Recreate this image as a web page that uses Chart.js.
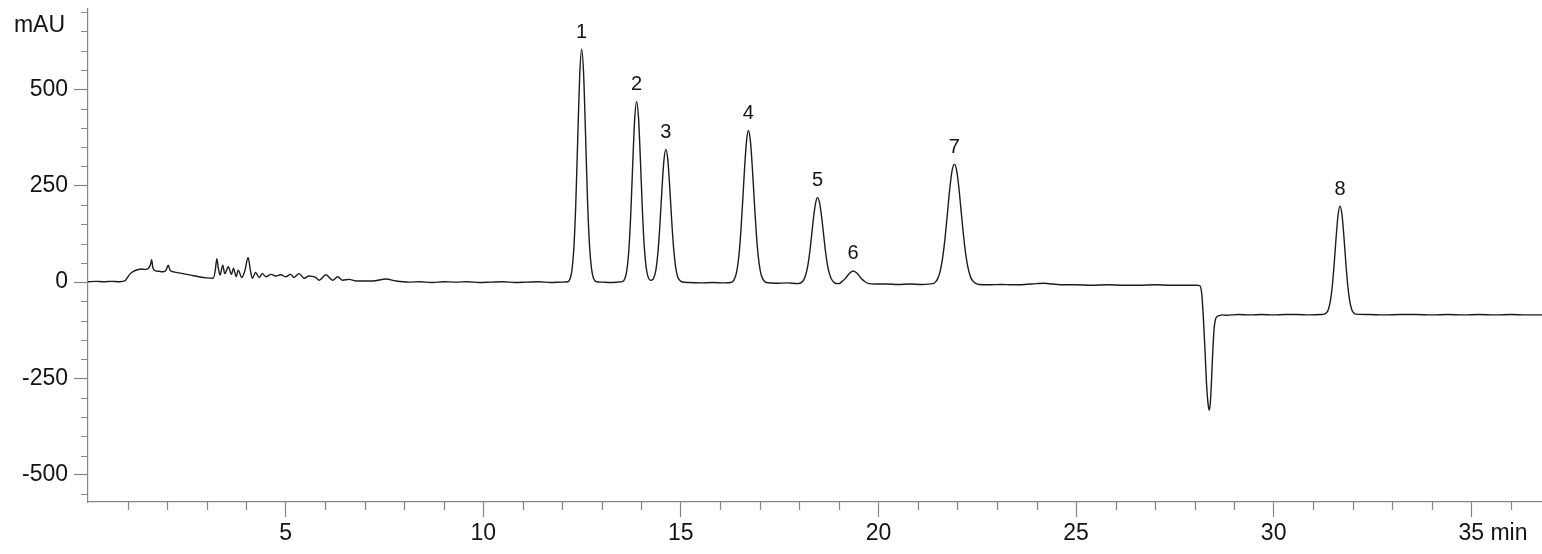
<!DOCTYPE html>
<html>
<head>
<meta charset="utf-8">
<script src="https://cdn.jsdelivr.net/npm/chart.js@4.4.1/dist/chart.umd.min.js"></script>
<style>
  html, body { margin: 0; padding: 0; background: #ffffff; }
  #wrap { width: 1542px; height: 554px; }
</style>
</head>
<body>
<div id="wrap"><canvas id="c" width="1542" height="554"></canvas></div>
<script>
// ---- Data (time in min, signal in mAU) ----
const traceEarly = [[0.00,1],[0.2,2],[0.4,1],[0.6,2],[0.8,1],[0.93,3],[1.0,12],[1.07,22],[1.15,28],[1.25,32],[1.35,34],[1.45,33],[1.53,36],[1.58,45],[1.61,58],[1.64,38],[1.7,30],[1.8,28],[1.9,27],[1.98,32],[2.03,44],[2.08,30],[2.2,26],[2.4,22],[2.6,18],[2.8,14],[3.0,11],[3.17,10],[3.22,30],[3.26,61],[3.30,35],[3.34,18],[3.41,44],[3.46,22],[3.55,40],[3.63,20],[3.68,36],[3.75,14],[3.80,31],[3.89,12],[3.97,30],[4.05,64],[4.11,30],[4.16,10],[4.24,25],[4.33,12],[4.41,22],[4.50,14],[4.63,20],[4.75,16],[4.88,19],[5.0,14],[5.13,20],[5.21,12],[5.34,22],[5.47,10],[5.59,16],[5.76,12],[5.85,5],[6.02,19],[6.19,5],[6.32,14],[6.44,5],[6.61,7],[6.78,3],[7.0,3],[7.2,3],[7.54,8],[7.79,3],[8.12,0]];
const traceBaseline1 = [[8.4,1],[8.7,-1],[9.0,1],[9.3,0],[9.6,1],[9.9,-1],[10.2,0],[10.5,1],[10.8,-1],[11.1,0],[11.4,1],[11.7,-1],[12.0,0]];
const tracePeak1 = [[12.14,1],[12.19,7],[12.24,27],[12.29,82],[12.34,196],[12.39,366],[12.44,533],[12.49,604],[12.54,540],[12.59,380],[12.64,210],[12.69,95],[12.74,35],[12.79,10],[12.86,1],[13.0,0],[13.2,-1],[13.4,0]];
const tracePeak2 = [[13.53,2],[13.58,8],[13.63,28],[13.68,76],[13.73,168],[13.78,298],[13.83,418],[13.88,468],[13.93,425],[13.98,310],[14.03,180],[14.08,85],[14.13,33],[14.18,11],[14.23,5]];
const tracePeak3 = [[14.28,6],[14.32,12],[14.37,32],[14.42,76],[14.47,147],[14.52,236],[14.57,313],[14.62,344],[14.67,318],[14.72,245],[14.77,158],[14.82,85],[14.87,38],[14.92,14],[14.97,5],[15.02,1],[15.2,-1],[15.5,-2],[15.8,-1],[16.1,-2]];
const tracePeak4 = [[16.26,-1],[16.31,1],[16.36,9],[16.41,25],[16.46,60],[16.51,118],[16.56,200],[16.61,290],[16.66,363],[16.71,393],[16.76,366],[16.81,296],[16.86,208],[16.91,126],[16.96,66],[17.01,29],[17.06,11],[17.11,3],[17.16,-1],[17.4,-3],[17.7,-2],[17.95,-4]];
const tracePeak5 = [[18.01,-3],[18.06,0],[18.11,6],[18.16,19],[18.21,41],[18.26,76],[18.31,122],[18.36,169],[18.41,205],[18.46,219],[18.51,206],[18.56,171],[18.61,126],[18.66,80],[18.71,45],[18.76,22],[18.81,8],[18.86,1],[18.91,-3]];
const tracePeak6 = [[19.0,-4],[19.06,0],[19.16,9],[19.26,22],[19.36,29],[19.46,23],[19.56,10],[19.66,1],[19.76,-4],[19.9,-5],[20.2,-5],[20.5,-6],[20.8,-5],[21.1,-6],[21.38,-4]];
const tracePeak7 = [[21.44,0],[21.50,9],[21.56,27],[21.62,60],[21.68,109],[21.74,172],[21.80,237],[21.86,287],[21.92,306],[21.98,289],[22.04,240],[22.10,176],[22.16,114],[22.22,64],[22.28,31],[22.34,11],[22.40,2],[22.46,-3],[22.55,-6]];
const traceBaseline2 = [[22.8,-7],[23.1,-6],[23.4,-7],[23.7,-6],[24.0,-4],[24.2,-3],[24.4,-5],[24.7,-7],[25.0,-7],[25.4,-8],[25.8,-7],[26.2,-8],[26.6,-8],[27.0,-7],[27.4,-8],[27.8,-8],[28.05,-8]];
const traceDip = [[28.13,-9],[28.18,-30],[28.22,-90],[28.26,-170],[28.30,-260],[28.34,-315],[28.37,-332],[28.40,-310],[28.43,-250],[28.46,-180],[28.49,-125],[28.52,-100],[28.56,-90],[28.62,-87],[28.7,-85],[28.8,-86],[29.1,-84],[29.4,-85],[29.7,-84],[30.0,-85],[30.3,-84],[30.6,-84],[30.9,-85],[31.2,-84]];
const tracePeak8 = [[31.28,-83],[31.33,-80],[31.38,-72],[31.43,-52],[31.48,-14],[31.53,45],[31.58,115],[31.63,174],[31.68,197],[31.73,174],[31.78,115],[31.83,45],[31.88,-14],[31.93,-52],[31.98,-72],[32.03,-80],[32.08,-83]];
const traceTail = [[32.4,-84],[32.8,-85],[33.2,-84],[33.6,-84],[34.0,-85],[34.4,-84],[34.8,-85],[35.2,-84],[35.6,-85],[36.0,-84],[36.4,-85],[36.8,-85]];

// Peak annotations
const peakNumbers = ['1','2','3','4','5','6','7','8'];
const peakTimes   = [12.49, 13.88, 14.62, 16.71, 18.46, 19.36, 21.92, 31.68];
const peakTops    = [604, 468, 344, 393, 219, 29, 306, 197];

// Axis ticks
const xMajorTicks = [5, 10, 15, 20, 25, 30, 35];
const xMinorTicks = [1,2,3,4,6,7,8,9,11,12,13,14,16,17,18,19,21,22,23,24,26,27,28,29,31,32,33,34,36];
const yMajorTicks = [-500, -250, 0, 250, 500];
const yMinorTicks = [-550,-450,-400,-350,-300,-200,-150,-100,-50,50,100,150,200,300,350,400,450,550,600,650,700];
const yUnit = 'mAU';
const xUnit = 'min';

// ---- Build chart ----
const allTrace = [].concat(traceEarly, traceBaseline1, tracePeak1, tracePeak2, tracePeak3, tracePeak4,
  tracePeak5, tracePeak6, tracePeak7, traceBaseline2, traceDip, tracePeak8, traceTail);

const FONT = "'Liberation Sans', Arial, Helvetica, sans-serif";
const AXIS_COLOR = '#858585';
const TEXT_COLOR = '#141414';

const extras = {
  id: 'extras',
  afterDraw(chart) {
    const ctx = chart.ctx;
    const xs = chart.scales.x, ys = chart.scales.y;
    const area = chart.chartArea;
    ctx.save();
    // minor ticks
    ctx.strokeStyle = AXIS_COLOR;
    ctx.lineWidth = 1.2;
    ctx.beginPath();
    yMinorTicks.forEach(v => {
      const py = Math.round(ys.getPixelForValue(v)) + 0.5;
      ctx.moveTo(area.left - 7, py); ctx.lineTo(area.left, py);
    });
    xMinorTicks.forEach(v => {
      const px = Math.round(xs.getPixelForValue(v)) + 0.5;
      ctx.moveTo(px, area.bottom); ctx.lineTo(px, area.bottom + 8);
    });
    ctx.stroke();
    // unit labels
    ctx.fillStyle = TEXT_COLOR;
    ctx.font = "23px " + FONT;
    ctx.textAlign = 'right';
    ctx.textBaseline = 'middle';
    ctx.fillText(yUnit, 65, 26);
    const lastX = xMajorTicks[xMajorTicks.length - 1];
    const w35 = ctx.measureText(String(lastX)).width;
    ctx.textAlign = 'left';
    ctx.fillText(' ' + xUnit, xs.getPixelForValue(lastX) + w35 / 2, 534);
    // peak labels
    ctx.font = "20px " + FONT;
    ctx.textAlign = 'center';
    ctx.textBaseline = 'middle';
    peakNumbers.forEach((n, i) => {
      ctx.fillText(n, xs.getPixelForValue(peakTimes[i]), ys.getPixelForValue(peakTops[i]) - 17);
    });
    ctx.restore();
  }
};

new Chart(document.getElementById('c'), {
  type: 'line',
  data: {
    datasets: [{
      data: allTrace.map(p => ({ x: p[0], y: p[1] })),
      borderColor: '#1c1c1c',
      borderWidth: 1.4,
      pointRadius: 0,
      fill: false,
      cubicInterpolationMode: 'monotone'
    }]
  },
  options: {
    responsive: false,
    animation: false,
    devicePixelRatio: 1,
    layout: { padding: { top: 9, right: 0, left: 0, bottom: 0 } },
    plugins: { legend: { display: false }, tooltip: { enabled: false } },
    scales: {
      x: {
        type: 'linear',
        min: 0,
        max: 36.79,
        afterBuildTicks: s => { s.ticks = xMajorTicks.map(v => ({ value: v })); },
        afterFit: s => { s.height = 52; s.paddingLeft = 0; s.paddingRight = 0; },
        ticks: {
          autoSkip: false, maxRotation: 0, minRotation: 0,
          color: TEXT_COLOR, padding: 3,
          font: { size: 23, family: FONT },
          callback: v => String(v)
        },
        grid: { drawOnChartArea: false, tickLength: 15, tickColor: AXIS_COLOR, tickWidth: 1.2 },
        border: { color: AXIS_COLOR, width: 1.2 }
      },
      y: {
        type: 'linear',
        min: -570,
        max: 708,
        afterBuildTicks: s => { s.ticks = yMajorTicks.map(v => ({ value: v })); },
        afterFit: s => { s.width = 88; s.paddingTop = 0; s.paddingBottom = 0; },
        ticks: {
          color: TEXT_COLOR, padding: 6,
          font: { size: 23, family: FONT },
          callback: v => String(v)
        },
        grid: { drawOnChartArea: false, tickLength: 14, tickColor: AXIS_COLOR, tickWidth: 1.2 },
        border: { color: AXIS_COLOR, width: 1.2 }
      }
    }
  },
  plugins: [extras]
});
</script>
</body>
</html>
